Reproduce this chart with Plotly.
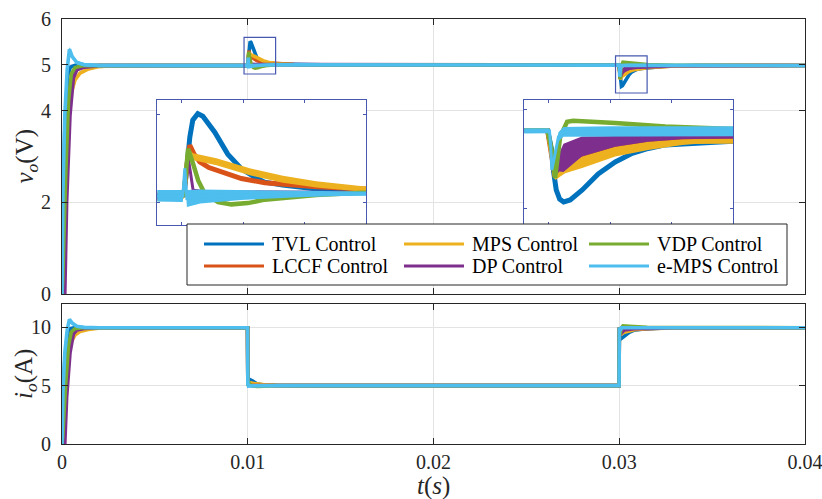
import plotly.graph_objects as go

# ---------------- data ----------------
names = ["TVL Control", "LCCF Control", "MPS Control", "DP Control", "VDP Control", "e-MPS Control"]
colors = ["#0072BD", "#D95319", "#EDB120", "#7E2F8E", "#77AC30", "#4DBEEE"]

# output voltage v_o (V) versus time t (s)
tvl_t = [0, 0.00005, 0.00015, 0.0003, 0.00045, 0.0007, 0.0012, 0.00999,
         0.010016, 0.010041, 0.010065, 0.010089, 0.01013, 0.010171, 0.010268, 0.010374, 0.010488,
         0.010593, 0.010675, 0.010821, 0.011098, 0.011496, 0.0125, 0.014, 0.02999,
         0.030023, 0.030039, 0.03006, 0.030088, 0.030121, 0.030174, 0.030272, 0.030402, 0.030541,
         0.030679, 0.03081, 0.030949, 0.031218, 0.031504, 0.0325, 0.034, 0.04]
tvl_v = [0, 1.8, 3.6, 4.75, 4.95, 4.99, 4.985, 4.985,
         4.99, 5.162, 5.36, 5.468, 5.509, 5.493, 5.391, 5.251, 5.155,
         5.104, 5.072, 5.053, 5.028, 5.015, 5.003, 5.0, 4.995,
         4.869, 4.727, 4.61, 4.551, 4.532, 4.545, 4.61, 4.714, 4.791,
         4.847, 4.879, 4.902, 4.921, 4.934, 4.97, 4.983, 4.985]

lccf_t = [0, 0.0001, 0.0003, 0.0005, 0.0007, 0.001, 0.0015, 0.00999,
          0.010016, 0.010045, 0.010065, 0.0101, 0.010146, 0.01022, 0.010323, 0.010485, 0.010675,
          0.010821, 0.011095, 0.011472, 0.0125, 0.014, 0.02999,
          0.03003, 0.030051, 0.030133, 0.030272, 0.030541, 0.03081, 0.031088, 0.031504, 0.033, 0.035, 0.04]
lccf_v = [0, 1.2, 3.5, 4.6, 4.88, 4.96, 4.983, 4.983,
          4.99, 5.2, 5.308, 5.25, 5.202, 5.165, 5.136, 5.095, 5.068,
          5.058, 5.042, 5.028, 5.008, 5.0, 4.995,
          4.8, 4.695, 4.77, 4.83, 4.89, 4.925, 4.94, 4.95, 4.978, 4.985, 4.985]

mps_t = [0, 0.0001, 0.00025, 0.00034, 0.00052, 0.0007, 0.00097, 0.00142, 0.00195, 0.0027, 0.004, 0.00999,
         0.010016, 0.010051, 0.010092, 0.010282, 0.010553, 0.010824, 0.011095, 0.011474, 0.0125, 0.014, 0.02999,
         0.03003, 0.030051, 0.030133, 0.030272, 0.030541, 0.03081, 0.031088, 0.031504, 0.033, 0.035, 0.04]
mps_v = [0, 1.0, 2.9, 3.83, 4.41, 4.67, 4.82, 4.91, 4.96, 4.98, 4.985, 4.983,
         4.99, 5.266, 5.234, 5.202, 5.138, 5.090, 5.058, 5.028, 5.006, 5.0, 4.995,
         4.8, 4.69, 4.745, 4.789, 4.858, 4.896, 4.92, 4.938, 4.975, 4.985, 4.985]
mps_ripple = [0, 0.04, 0.05, 0.05, 0.05, 0.045, 0.04, 0.035, 0.03, 0.03, 0.03, 0.03,
              0.022, 0.022, 0.022, 0.022, 0.022, 0.022, 0.02, 0.018, 0.015, 0.015, 0.015,
              0.016, 0.016, 0.027, 0.037, 0.032, 0.027, 0.018, 0.01, 0.02, 0.03, 0.03]

dp_t = [0, 0.00015, 0.00025, 0.00043, 0.00061, 0.0008, 0.0012, 0.002, 0.00999,
        0.010016, 0.01004, 0.010051, 0.010092, 0.010187, 0.0115, 0.02999,
        0.03003, 0.030051, 0.030085, 0.030119, 0.030269, 0.030541, 0.03081, 0.031085, 0.031504, 0.033, 0.04]
dp_v = [0, 0, 2.0, 3.9, 4.71, 4.89, 4.95, 4.983, 4.983,
        4.99, 5.15, 5.232, 5.019, 5.009, 5.005, 4.995,
        4.85, 4.707, 4.79, 4.818, 4.891, 4.925, 4.942, 4.951, 4.955, 4.98, 4.985]
dp_ripple = [0, 0, 0.02, 0.02, 0.02, 0.02, 0.02, 0.02, 0.02,
             0.01, 0.01, 0.01, 0.01, 0.01, 0.01, 0.01,
             0.01, 0.01, 0.06, 0.092, 0.065, 0.035, 0.02, 0.012, 0.01, 0.015, 0.02]

vdp_t = [0, 0.00004, 0.0002, 0.00035, 0.0005, 0.0007, 0.0011, 0.002, 0.00999,
         0.010016, 0.010035, 0.010051, 0.010092, 0.010133, 0.010187, 0.010295, 0.010404, 0.010537,
         0.010675, 0.010821, 0.011095, 0.011472, 0.0125, 0.02999,
         0.03003, 0.030051, 0.030092, 0.030149, 0.030198, 0.030541, 0.030949, 0.031504, 0.033, 0.04]
vdp_v = [0, 0.3, 2.6, 4.2, 4.8, 4.94, 4.98, 4.983, 4.983,
         4.99, 5.15, 5.285, 5.189, 5.083, 4.998, 4.945, 4.93, 4.938,
         4.96, 4.972, 4.989, 5.004, 5.002, 4.995,
         4.84, 4.688, 4.954, 5.051, 5.058, 5.043, 5.021, 5.004, 4.99, 4.985]

emps_t = [0, 0.00005, 0.00015, 0.00028, 0.0004, 0.00055, 0.0008, 0.0012, 0.002, 0.00999,
          0.010008, 0.010024, 0.010041, 0.01015, 0.01048, 0.010959, 0.011496, 0.0125, 0.02999,
          0.030005, 0.030015, 0.030024, 0.030051, 0.030078, 0.030119, 0.0305, 0.0315, 0.04]
emps_v = [0, 2.2, 3.9, 4.9, 5.34, 5.18, 5.05, 5.0, 4.985, 4.983,
          4.983, 5.16, 4.967, 4.98, 4.99, 4.995, 5.0, 5.0, 4.993,
          4.993, 4.9, 4.739, 4.845, 4.954, 4.986, 4.99, 4.99, 4.985]
emps_ripple = [0, 0.05, 0.05, 0.05, 0.05, 0.045, 0.04, 0.038, 0.038, 0.038,
               0.038, 0.01, 0.054, 0.045, 0.032, 0.02, 0.012, 0.012, 0.016,
               0.016, 0.01, 0.01, 0.02, 0.03, 0.032, 0.032, 0.032, 0.035]

# output current i_o (A) versus time t (s)
tvl_it = [0, 0.00005, 0.00015, 0.0003, 0.00045, 0.0007, 0.0012, 0.00999, 0.010005, 0.010041, 0.010089,
          0.01013, 0.010268, 0.010488, 0.010821, 0.0115, 0.014, 0.02999, 0.030005, 0.030023, 0.03006,
          0.030121, 0.030272, 0.030541, 0.03081, 0.031218, 0.0325, 0.04]
tvl_i = [0, 3.6, 7.2, 9.5, 9.9, 9.98, 9.97, 9.97, 4.99, 5.16, 5.47,
         5.51, 5.39, 5.16, 5.05, 5.015, 5.0, 5.0, 9.99, 9.74, 9.22,
         9.06, 9.22, 9.58, 9.76, 9.84, 9.94, 9.97]
lccf_it = [0, 0.0001, 0.0003, 0.0005, 0.0007, 0.001, 0.0015, 0.00999, 0.010005, 0.010065, 0.010146,
           0.010323, 0.010675, 0.0115, 0.014, 0.02999, 0.030005, 0.030051, 0.030272, 0.030541, 0.03081,
           0.031504, 0.033, 0.04]
lccf_i = [0, 2.4, 7.0, 9.2, 9.76, 9.92, 9.97, 9.97, 4.99, 5.31, 5.2,
          5.14, 5.07, 5.03, 5.0, 5.0, 9.99, 9.39, 9.66, 9.78, 9.85,
          9.9, 9.96, 9.97]
mps_it = [0, 0.0001, 0.00025, 0.00034, 0.00052, 0.0007, 0.00097, 0.00142, 0.00195, 0.0027, 0.004,
          0.00999, 0.010005, 0.010051, 0.010282, 0.010553, 0.010824, 0.0115, 0.014, 0.02999, 0.030005,
          0.030051, 0.030272, 0.030541, 0.03081, 0.031504, 0.033, 0.04]
mps_i = [0, 2.0, 5.8, 7.66, 8.82, 9.34, 9.64, 9.82, 9.92, 9.96, 9.97,
         9.97, 4.99, 5.27, 5.2, 5.14, 5.09, 5.03, 5.0, 5.0, 9.99,
         9.38, 9.58, 9.72, 9.79, 9.88, 9.95, 9.97]
dp_it = [0, 0.00015, 0.00025, 0.00043, 0.00061, 0.0008, 0.0012, 0.002, 0.00999, 0.010005, 0.010051,
         0.010092, 0.0115, 0.02999, 0.030005, 0.030051, 0.030269, 0.030541, 0.03081, 0.031504, 0.033, 0.04]
dp_i = [0, 0, 4.0, 7.8, 9.42, 9.78, 9.9, 9.97, 9.97, 4.99, 5.23,
        5.02, 5.0, 5.0, 9.99, 9.41, 9.78, 9.85, 9.88, 9.91, 9.96, 9.97]
vdp_it = [0, 0.00004, 0.0002, 0.00035, 0.0005, 0.0007, 0.0011, 0.002, 0.00999, 0.010005, 0.010051,
          0.010133, 0.010295, 0.010537, 0.010821, 0.011472, 0.02999, 0.030005, 0.030051, 0.030092,
          0.030198, 0.030541, 0.031504, 0.033, 0.04]
vdp_i = [0, 0.6, 5.2, 8.4, 9.6, 9.88, 9.96, 9.97, 9.97, 4.99, 5.29,
         5.08, 4.95, 4.94, 4.97, 5.0, 5.0, 9.99, 9.38, 9.91,
         10.12, 10.09, 10.01, 9.98, 9.97]
emps_it = [0, 0.00005, 0.00015, 0.00028, 0.0004, 0.00055, 0.0008, 0.0012, 0.002, 0.00999, 0.010005,
           0.010024, 0.010041, 0.01015, 0.0115, 0.02999, 0.030005, 0.030024, 0.030051, 0.030119, 0.04]
emps_i = [0, 4.4, 7.8, 9.8, 10.68, 10.36, 10.1, 10.0, 9.97, 9.97, 4.99,
          5.16, 4.97, 4.98, 5.0, 5.0, 9.99, 9.48, 9.69, 9.97, 9.97]

x_ticks = [0, 0.01, 0.02, 0.03, 0.04]
x_tick_labels = ["0", "0.01", "0.02", "0.03", "0.04"]
v_ticks = [0, 2, 4, 5, 6]
i_ticks = [0, 5, 10]

# zoom windows for the two insets
zoom1_t = [0.0098, 0.0115]
zoom1_v = [4.80, 5.60]
zoom2_t = [0.0298, 0.0315]
zoom2_v = [4.385, 5.196]

series = [
    (tvl_t, tvl_v, None, tvl_it, tvl_i, 5),
    (lccf_t, lccf_v, None, lccf_it, lccf_i, 5),
    (mps_t, mps_v, mps_ripple, mps_it, mps_i, 4),
    (dp_t, dp_v, dp_ripple, dp_it, dp_i, 3),
    (vdp_t, vdp_v, None, vdp_it, vdp_i, 4.5),
    (emps_t, emps_v, emps_ripple, emps_it, emps_i, 3),
]

# ---------------- layout helpers (pixel -> paper) ----------------
W, H = 822, 499
ML, MR, MT, MB = 62, 17, 19, 55
PW, PH = W - ML - MR, H - MT - MB


def px(x):
    return (x - ML) / PW


def py(y):
    return (H - MB - y) / PH


FONT = "Liberation Serif"
AX = "#262626"
GRID = "#e3e3e3"
INSET = "#4658b0"

fig = go.Figure()


def add_band(t, v, r, color, xa, ya):
    up = [a + b for a, b in zip(v, r)]
    lo = [a - b for a, b in zip(v, r)]
    fig.add_trace(go.Scatter(x=list(t) + list(t)[::-1], y=up + lo[::-1], fill="toself",
                             fillcolor=color, line=dict(width=0, color=color),
                             mode="lines", xaxis=xa, yaxis=ya, showlegend=False,
                             hoverinfo="skip"))


for (t, v, r, it, i, w), name, c in zip(series, names, colors):
    if r is not None:
        add_band(t, v, r, c, "x", "y")
    fig.add_trace(go.Scatter(x=t, y=v, mode="lines", name=name, line=dict(color=c, width=3.6),
                             xaxis="x", yaxis="y", showlegend=False))
    fig.add_trace(go.Scatter(x=it, y=i, mode="lines", name=name, line=dict(color=c, width=3.6),
                             xaxis="x2", yaxis="y2", showlegend=False))

for xa, ya in (("x3", "y3"), ("x4", "y4")):
    for (t, v, r, it, i, w), name, c in zip(series, names, colors):
        if r is not None:
            add_band(t, v, r, c, xa, ya)
        fig.add_trace(go.Scatter(x=t, y=v, mode="lines", name=name, line=dict(color=c, width=w),
                                 xaxis=xa, yaxis=ya, showlegend=False))

tickfont = dict(family=FONT, size=20, color=AX)
common = dict(showline=True, linecolor=AX, linewidth=1, mirror="ticks", ticks="inside",
              ticklen=6, tickcolor=AX, gridcolor=GRID, showgrid=True, zeroline=False,
              tickfont=tickfont, automargin=False, ticklabeloverflow="allow")
TITLE_FONT = dict(family=FONT, size=25, color=AX)

top_dom = [py(294), 1.0]
bot_dom = [0.0, py(304)]
ins_y = [py(224.7), py(99.5)]

fig.update_layout(
    width=W, height=H, margin=dict(l=ML, r=MR, t=MT, b=MB, autoexpand=False),
    paper_bgcolor="white", plot_bgcolor="white",
    font=dict(family=FONT, color=AX),
    xaxis=dict(domain=[0, 1], anchor="y", range=[0, 0.04], tickvals=x_ticks,
               showticklabels=False, **common),
    yaxis=dict(domain=top_dom, anchor="x", range=[0, 6], tickvals=v_ticks,
               ticklabelstandoff=6, **common),
    xaxis2=dict(domain=[0, 1], anchor="y2", range=[0, 0.04], tickvals=x_ticks,
                ticktext=x_tick_labels, ticklabelstandoff=0, **common),
    yaxis2=dict(domain=bot_dom, anchor="x2", range=[0, 12], tickvals=i_ticks,
                ticklabelstandoff=6, **common),
)

# axis titles
fig.add_annotation(xref="paper", yref="paper", x=px(26), y=(top_dom[0] + top_dom[1]) / 2,
                   text="<i>v<sub>o</sub></i>(V)", textangle=-90, showarrow=False,
                   xanchor="center", yanchor="middle", font=TITLE_FONT)
fig.add_annotation(xref="paper", yref="paper", x=px(25), y=(bot_dom[0] + bot_dom[1]) / 2,
                   text="<i>i<sub>o</sub></i>(A)", textangle=-90, showarrow=False,
                   xanchor="center", yanchor="middle", font=TITLE_FONT)
fig.add_annotation(xref="paper", yref="paper", x=0.5, y=py(499), text="<i>t</i>(<i>s</i>)",
                   showarrow=False, xanchor="center", yanchor="bottom", font=TITLE_FONT,
                   yshift=-3)

inset_common = dict(showline=True, linecolor=INSET, linewidth=1.2, mirror="ticks", ticks="inside",
                    ticklen=3, tickcolor=INSET, showgrid=False, zeroline=False,
                    showticklabels=False, automargin=False)
fig.update_layout(
    xaxis3=dict(domain=[px(157.3), px(366)], anchor="y3", range=zoom1_t,
                tickvals=[0.01, 0.0105, 0.011], **inset_common),
    yaxis3=dict(domain=ins_y, anchor="x3", range=zoom1_v, tickvals=[4.943, 5.504], **inset_common),
    xaxis4=dict(domain=[px(524.3), px(733)], anchor="y4", range=zoom2_t,
                tickvals=[0.03, 0.0305, 0.031], **inset_common),
    yaxis4=dict(domain=ins_y, anchor="x4", range=zoom2_v, tickvals=[4.491, 5.129], **inset_common),
)

# zoom rectangles on the main axes
for tr, vr in ((zoom1_t, zoom1_v), (zoom2_t, zoom2_v)):
    fig.add_shape(type="rect", xref="x", yref="y", x0=tr[0], x1=tr[1], y0=vr[0], y1=vr[1],
                  line=dict(color=INSET, width=1.2), layer="above")

# legend (3 columns x 2 rows)
lg_l, lg_r, lg_t, lg_b = 187, 787, 224, 285
fig.add_shape(type="rect", xref="paper", yref="paper", x0=px(lg_l), x1=px(lg_r),
              y0=py(lg_b), y1=py(lg_t), line=dict(color=AX, width=1), fillcolor="white",
              layer="above")
col_x = [204, 404, 589]
row_y = [244, 266]
for k, (name, c) in enumerate(zip(names, colors)):
    col, row = k // 2, k % 2
    x0 = col_x[col]
    yy = row_y[row]
    fig.add_shape(type="line", xref="paper", yref="paper", x0=px(x0), x1=px(x0 + 60),
                  y0=py(yy), y1=py(yy), line=dict(color=c, width=3), layer="above")
    fig.add_annotation(xref="paper", yref="paper", x=px(x0 + 66), y=py(yy), text=name,
                       showarrow=False, xanchor="left", yanchor="middle",
                       font=dict(family=FONT, size=20, color="#000000"))

fig.write_html("out.html")
